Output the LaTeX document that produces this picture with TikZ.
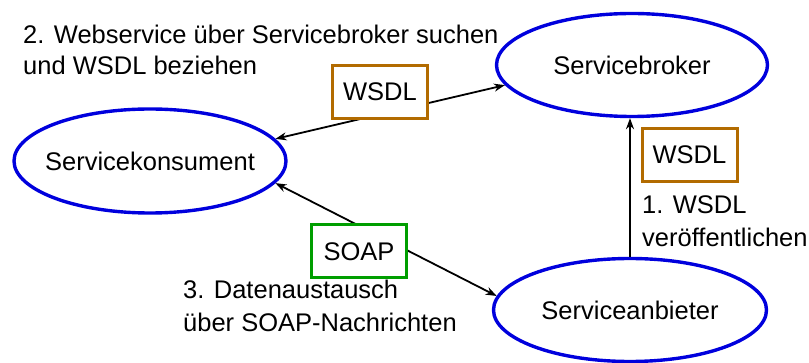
\documentclass[tikz,border=0pt]{standalone}
\usepackage{fontspec}
\setmainfont{Liberation Sans}
\usetikzlibrary{shapes.geometric,arrows.meta}
\definecolor{ellblue}{RGB}{0,0,221}
\definecolor{wsdlbrown}{RGB}{178,107,0}
\definecolor{soapgreen}{RGB}{0,158,0}
\tikzset{
  svc/.style={ellipse, draw=ellblue, line width=3.4pt, inner sep=0pt, fill=white},
  msgbox/.style={rectangle, line width=3pt, fill=white, inner sep=0pt, minimum width=95pt, minimum height=53pt},
  conn/.style={line width=1.8pt, -{Stealth[length=11pt,width=8pt,inset=3.5pt]}},
  biconn/.style={line width=1.8pt, {Stealth[length=11pt,width=8pt,inset=3.5pt]}-{Stealth[length=11pt,width=8pt,inset=3.5pt]}},
  lbl/.style={inner sep=0pt, align=left, anchor=base west}
}
\begin{document}
\begin{tikzpicture}[x=1pt,y=-1pt,font=\fontsize{25.5}{32}\selectfont]
\useasboundingbox (0,0) rectangle (809,363);
\node[svc, minimum width=271pt, minimum height=103pt] (broker) at (632,65) {\makebox[0pt]{Servicebroker}};
\node[svc, minimum width=272pt, minimum height=104pt] (konsument) at (150,161) {\makebox[0pt]{Servicekonsument}};
\node[svc, minimum width=273pt, minimum height=103pt] (anbieter) at (630,310) {\makebox[0pt]{Serviceanbieter}};

\draw[biconn] (konsument.10) -- (broker.189);
\draw[biconn] (konsument.-10) -- (anbieter.174);
\draw[conn] (anbieter.north) -- (anbieter.north |- broker.south);

\node[msgbox, draw=wsdlbrown] (wsdl1) at (380,92) {WSDL};
\node[msgbox, draw=wsdlbrown] (wsdl2) at (689.5,155) {WSDL};
\node[msgbox, draw=soapgreen] (soap) at (359,251.5) {SOAP};

\node[lbl, font=\fontsize{25.5}{31}\selectfont] (l2) at (23,75) {2. Webservice über Servicebroker suchen\\und WSDL beziehen};
\node[lbl, font=\fontsize{25.5}{33}\selectfont] (l3) at (183,332) {3. Datenaustausch\\über SOAP-Nachrichten};
\node[lbl, font=\fontsize{25.5}{33}\selectfont] (l1) at (642,247) {1. WSDL\\veröffentlichen};
\end{tikzpicture}
\end{document}
